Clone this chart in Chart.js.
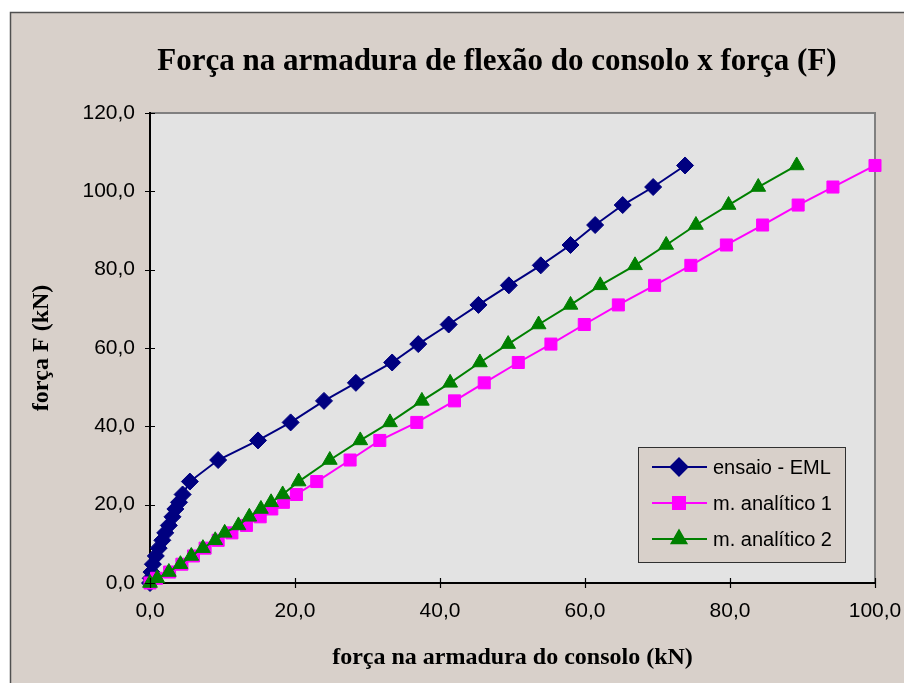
<!DOCTYPE html>
<html>
<head>
<meta charset="utf-8">
<script src="https://cdn.jsdelivr.net/npm/chart.js@4/dist/chart.umd.min.js"></script>
<style>
  html, body { margin: 0; padding: 0; background: #ffffff; }
  canvas { display: block; }
</style>
</head>
<body>
<canvas id="chart" width="904" height="683"></canvas>
<script>
// ====== DATA ======
// applied load F (kN), same load steps for the three series
const forcaF = [0, 1.2, 2.8, 4.8, 6.9, 8.9, 10.9, 12.8, 14.7, 16.9, 18.9, 20.6, 22.6, 25.9, 31.4, 36.4,
  41.0, 46.5, 51.1, 56.3, 61.0, 66.0, 71.0, 76.0, 81.1, 86.3, 91.4, 96.5, 101.1, 106.6];
// force in the tie reinforcement (kN)
const ensaioEML = [0, 0.1, 0.2, 0.4, 0.8, 1.2, 1.7, 2.1, 2.6, 3.1, 3.5, 4.0, 4.5, 5.5, 9.4, 14.9,
  19.4, 24.0, 28.4, 33.4, 37.0, 41.2, 45.3, 49.5, 53.9, 58.0, 61.4, 65.2, 69.4, 73.8];
const analitico1 = [0, 0.9, 2.7, 4.4, 6.0, 7.6, 9.4, 11.3, 13.3, 15.2, 16.8, 18.4, 20.2, 23.0, 27.6, 31.7,
  36.8, 42.0, 46.1, 50.8, 55.3, 59.9, 64.6, 69.6, 74.6, 79.5, 84.5, 89.4, 94.2, 100.0];
const analitico2 = [0, 1.0, 2.6, 4.2, 5.7, 7.3, 9.0, 10.3, 12.2, 13.7, 15.3, 16.7, 18.3, 20.5, 24.8, 29.0,
  33.1, 37.5, 41.4, 45.5, 49.4, 53.6, 58.0, 62.1, 66.9, 71.2, 75.3, 79.8, 83.9, 89.2];

const seriesNames = ["ensaio - EML", "m. analítico 1", "m. analítico 2"];
const seriesColors = ["#000080", "#FF00FF", "#008000"];
const seriesMarkers = ["rectRot", "rect", "triangle"];
const xTicks = { min: 0, max: 100, step: 20 };
const yTicks = { min: 0, max: 120, step: 20 };

const titleText = "Força na armadura de flexão do consolo x força (F)";
const xTitle = "força na armadura do consolo (kN)";
const yTitle = "força F (kN)";

function pairs(xs) { return xs.map((x, i) => ({ x: x, y: forcaF[i] })); }
const fmt = v => Number(v).toFixed(1).replace('.', ',');
const serif = "'Liberation Serif', 'Times New Roman', serif";
const sans = "'Liberation Sans', Arial, sans-serif";

// ====== PLUGINS ======
const frame = {
  id: 'frame',
  beforeDraw(chart) {
    const c = chart.ctx, a = chart.chartArea;
    c.save();
    // outer panel
    c.fillStyle = "#D8D0CA";
    c.fillRect(10, 12, 904, 683);
    c.strokeStyle = "#505050";
    c.lineWidth = 1.5;
    c.beginPath();
    c.moveTo(10.5, 690); c.lineTo(10.5, 12.5); c.lineTo(910, 12.5);
    c.stroke();
    // plot area
    c.fillStyle = "#E3E3E3";
    c.fillRect(a.left, a.top, a.right - a.left, a.bottom - a.top);
    c.strokeStyle = "#808080";
    c.lineWidth = 2;
    c.beginPath();
    c.moveTo(a.left, a.top); c.lineTo(a.right, a.top); c.lineTo(a.right, a.bottom);
    c.stroke();
    // title
    c.fillStyle = "#000";
    c.font = "bold 31px " + serif;
    c.textAlign = "center";
    c.textBaseline = "middle";
    c.fillText(titleText, 497, 62);
    c.restore();
  },
  afterDatasetsDraw(chart) {
    // crossing tick marks like the spreadsheet axes
    const c = chart.ctx, a = chart.chartArea;
    const xs = chart.scales.x, ys = chart.scales.y;
    c.save();
    c.strokeStyle = "#000";
    c.lineWidth = 1.2;
    c.beginPath();
    ys.ticks.forEach(t => {
      const y = Math.round(ys.getPixelForValue(t.value)) + 0.5;
      c.moveTo(a.left - 5, y); c.lineTo(a.left + 5, y);
    });
    xs.ticks.forEach(t => {
      const x = Math.round(xs.getPixelForValue(t.value)) + 0.5;
      c.moveTo(x, a.bottom - 5); c.lineTo(x, a.bottom + 5);
    });
    c.stroke();
    c.restore();
  }
};

const boxLegend = {
  id: 'boxLegend',
  afterDraw(chart) {
    const c = chart.ctx;
    const bx = 638, by = 447, bw = 207, bh = 115;
    c.save();
    c.fillStyle = "#D8D0CA";
    c.fillRect(bx, by, bw, bh);
    c.strokeStyle = "#303030";
    c.lineWidth = 1;
    c.strokeRect(bx + 0.5, by + 0.5, bw, bh);
    c.font = "20px " + sans;
    c.textBaseline = "middle";
    seriesNames.forEach((name, i) => {
      const y = 467 + i * 36;
      c.strokeStyle = seriesColors[i];
      c.lineWidth = 2;
      c.beginPath();
      c.moveTo(652, y); c.lineTo(707, y);
      c.stroke();
      c.fillStyle = seriesColors[i];
      Chart.helpers.drawPoint(c, { pointStyle: seriesMarkers[i], radius: 8.5, borderWidth: 1 }, 679, y);
      c.fill();
      c.fillStyle = "#000";
      c.fillText(name, 713, y + 1);
    });
    c.restore();
  }
};

// ====== CHART ======
const datasets = [ensaioEML, analitico1, analitico2].map((xs, i) => ({
  label: seriesNames[i],
  data: pairs(xs),
  showLine: true,
  borderColor: seriesColors[i],
  backgroundColor: seriesColors[i],
  borderWidth: 2,
  pointStyle: seriesMarkers[i],
  pointRadius: 8.5,
  pointBorderWidth: 1,
  pointBorderColor: seriesColors[i],
  pointBackgroundColor: seriesColors[i],
  clip: false,
  order: 3 - i
}));

new Chart(document.getElementById('chart'), {
  type: 'scatter',
  data: { datasets },
  plugins: [frame, boxLegend],
  options: {
    responsive: false,
    animation: false,
    devicePixelRatio: 1,
    layout: { padding: { left: 0, right: 29, top: 113, bottom: 0 } },
    plugins: {
      legend: { display: false },
      tooltip: { enabled: false },
      title: { display: false }
    },
    scales: {
      x: {
        type: 'linear',
        min: xTicks.min, max: xTicks.max,
        ticks: { stepSize: xTicks.step, callback: fmt, color: "#000", padding: 16, maxRotation: 0,
          font: { family: sans, size: 21 } },
        grid: { display: false, drawTicks: false },
        border: { display: true, color: "#000", width: 2 },
        title: { display: true, text: xTitle, color: "#000", padding: { top: 0, bottom: 10.6 },
          font: { family: serif, size: 24, weight: 'bold' } },
        afterFit(scale) { scale.height = 100; scale.paddingLeft = 0; scale.paddingRight = 0; }
      },
      y: {
        type: 'linear',
        min: yTicks.min, max: yTicks.max,
        ticks: { stepSize: yTicks.step, callback: fmt, color: "#000", padding: 15,
          font: { family: sans, size: 21 } },
        grid: { display: false, drawTicks: false },
        border: { display: true, color: "#000", width: 2 },
        title: { display: true, text: yTitle, color: "#000", padding: { top: 27.6, bottom: 0 },
          font: { family: serif, size: 24, weight: 'bold' } },
        afterFit(scale) { scale.width = 150; scale.paddingTop = 0; scale.paddingBottom = 0; }
      }
    }
  }
});
</script>
</body>
</html>
